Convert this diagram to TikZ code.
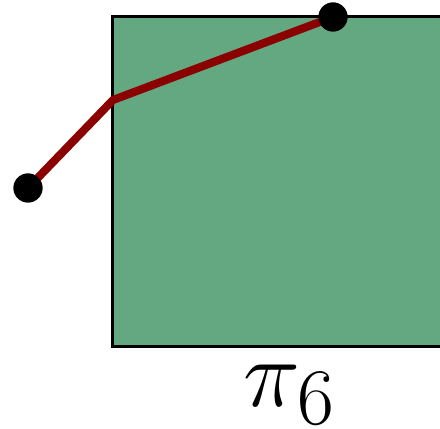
\documentclass[tikz,border=0pt]{standalone}
\usepackage{amsmath,amssymb}
\usepackage{tikz}
\definecolor{regiongreen}{RGB}{100,168,130}
\definecolor{pathred}{RGB}{139,0,0}

\begin{document}
\begin{tikzpicture}[scale=1.0,
    dot/.style={circle,fill=black,inner sep=0pt,minimum size=0.58cm}]
    \useasboundingbox (0,0) rectangle (8.8,8.58);
    \clip (0,0) rectangle (8.8,8.58);

    % 矩形区域
    \draw[line width=1.7pt,fill=regiongreen] (2.25,1.64) rectangle (9.5,8.24);

    % 路径
    \node[dot] (p1) at (0.56,4.82) {};
    \coordinate (c) at (2.26,6.58);
    \node[dot] (p2) at (6.66,8.24) {};
    \draw[line width=4.6pt,pathred] (p1.center) -- (c) -- (p2.center);
    \node[dot] at (p1) {};
    \node[dot] at (p2) {};

    % 下方标签
    \node[scale=2.2,inner sep=0pt] (lbl) at (5.8,0.68) {\Huge $\pi_6$};
\end{tikzpicture}
\end{document}
